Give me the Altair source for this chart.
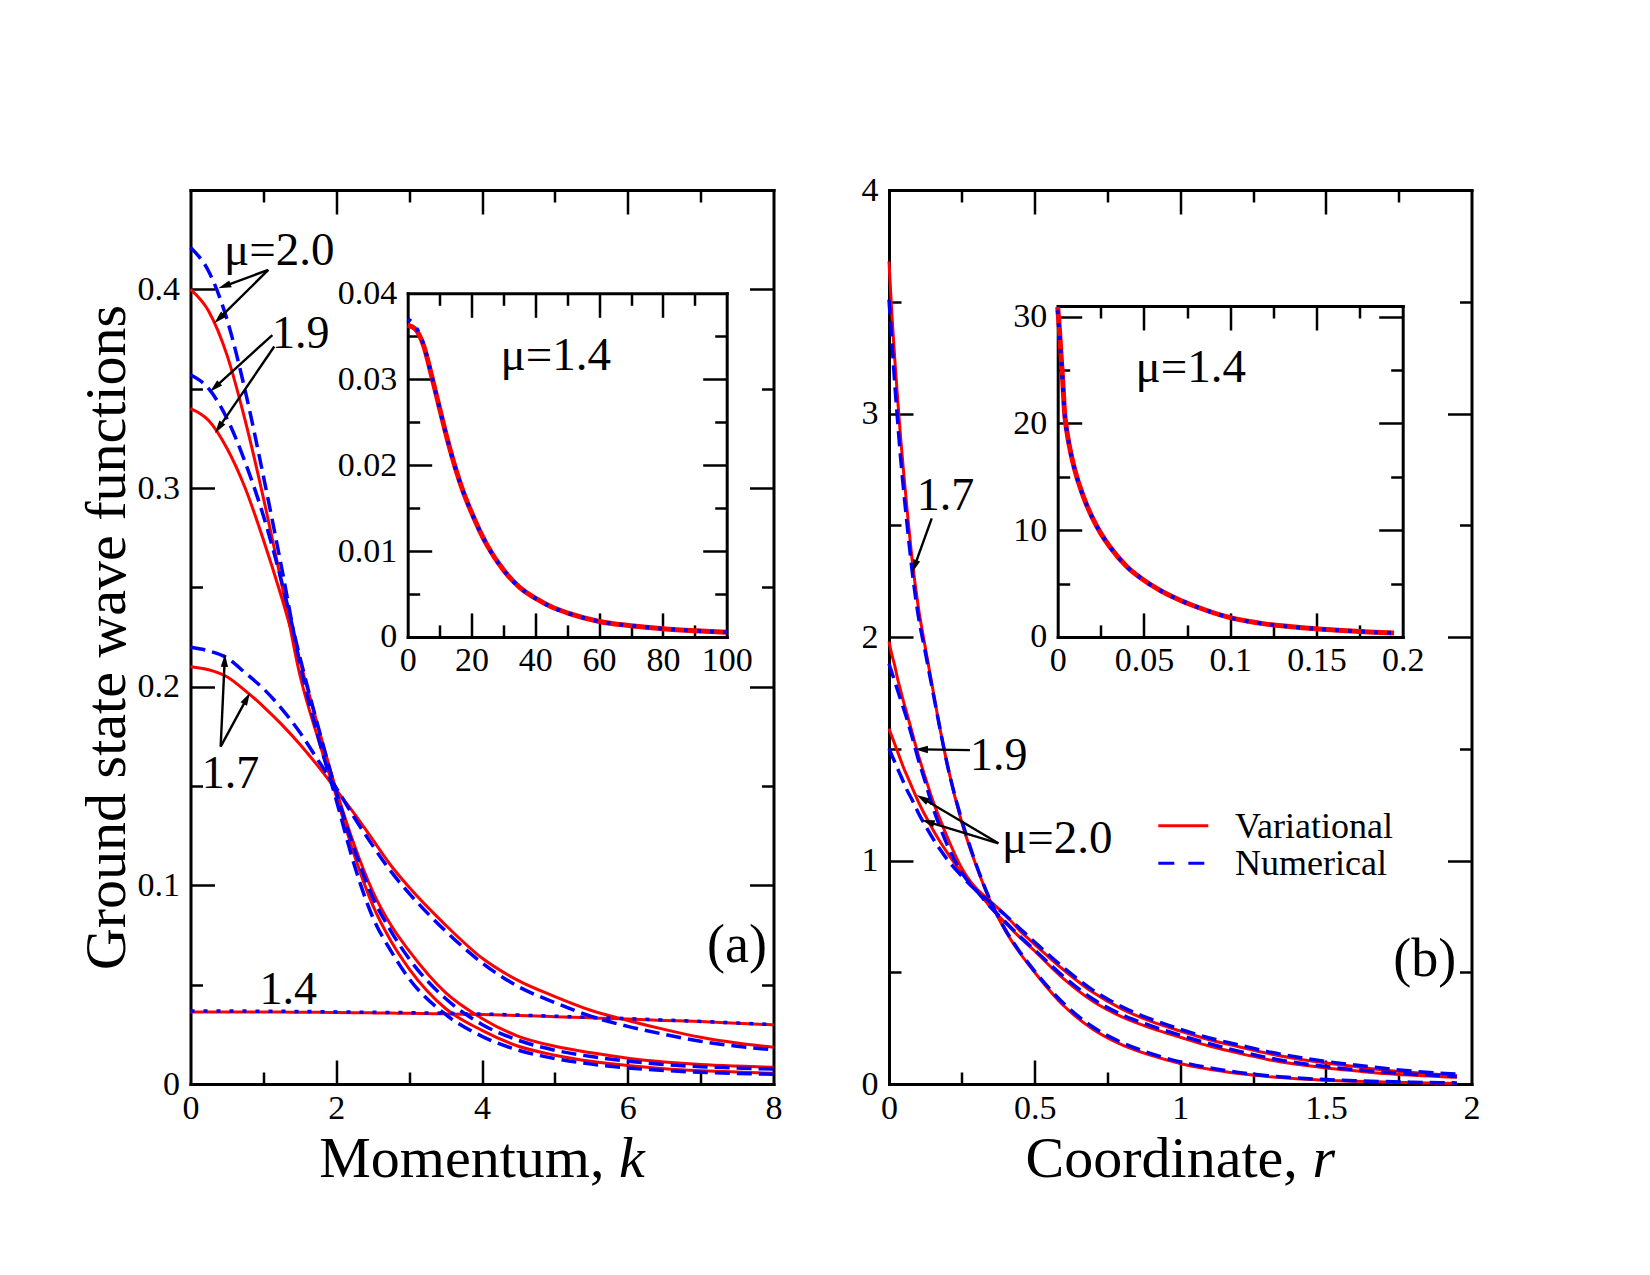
import math
import altair as alt
import pandas as pd

# ---------------- panel (a): momentum space ----------------
K_A = [0, 0.25, 0.5, 0.75, 1.0, 1.25, 1.5, 1.75, 2.0, 2.25, 2.5, 2.75, 3.0,
       3.5, 4.0, 4.5, 5.0, 5.5, 6.0, 6.5, 7.0, 7.5, 8.0]
VAR_A_20 = [0.400, 0.389, 0.367, 0.334, 0.295, 0.252, 0.206, 0.174, 0.145, 0.115, 0.090, 0.072, 0.058,
            0.038, 0.027, 0.019, 0.0145, 0.0114, 0.0093, 0.0077, 0.0067, 0.0060, 0.0054]
NUM_A_20 = [0.421, 0.409, 0.385, 0.349, 0.306, 0.260, 0.212, 0.175, 0.143, 0.110, 0.084, 0.067, 0.053,
            0.035, 0.024, 0.017, 0.0128, 0.0100, 0.0081, 0.0068, 0.0059, 0.0053, 0.0049]
VAR_A_19 = [0.340, 0.334, 0.320, 0.300, 0.274, 0.245, 0.213, 0.180, 0.148, 0.120, 0.097, 0.080, 0.067,
            0.046, 0.033, 0.024, 0.019, 0.0157, 0.0130, 0.0111, 0.0098, 0.0090, 0.0084]
NUM_A_19 = [0.357, 0.350, 0.335, 0.313, 0.286, 0.253, 0.215, 0.180, 0.147, 0.118, 0.094, 0.077, 0.063,
            0.043, 0.030, 0.022, 0.017, 0.0138, 0.0115, 0.0098, 0.0087, 0.0080, 0.0076]
VAR_A_17 = [0.210, 0.2085, 0.205, 0.198, 0.190, 0.181, 0.171, 0.160, 0.148, 0.136, 0.123, 0.110, 0.099,
            0.080, 0.0634, 0.052, 0.044, 0.037, 0.032, 0.0275, 0.0235, 0.0206, 0.0185]
NUM_A_17 = [0.2198, 0.218, 0.2145, 0.207, 0.199, 0.189, 0.177, 0.163, 0.149, 0.134, 0.120, 0.107, 0.096,
            0.077, 0.061, 0.049, 0.041, 0.034, 0.029, 0.025, 0.0215, 0.019, 0.0172]
VAR_A_14 = [0.0363, 0.0363, 0.0363, 0.0363, 0.0362, 0.0362, 0.0361, 0.0361, 0.0360, 0.0359, 0.0358, 0.0357, 0.0356,
            0.0353, 0.0350, 0.0345, 0.0339, 0.0333, 0.0327, 0.0320, 0.0314, 0.0306, 0.0298]
NUM_A_14 = [0.0368, 0.0368, 0.0367, 0.0367, 0.0366, 0.0366, 0.0365, 0.0364, 0.0363, 0.0362, 0.0361, 0.0360, 0.0359,
            0.0356, 0.0352, 0.0347, 0.0341, 0.0335, 0.0329, 0.0322, 0.0315, 0.0307, 0.0299]

# inset of (a): mu = 1.4 over a wide k range
K_IA = [0, 2.5, 5, 7.5, 10, 12.5, 15, 17.5, 20, 22.5, 25, 30, 35, 40, 45, 50, 60, 70, 80, 90, 100]
VAR_IA = [0.0363, 0.0358, 0.0339, 0.0304, 0.0266, 0.0229, 0.0196, 0.0168, 0.0145, 0.0124, 0.0106,
          0.0078, 0.0058, 0.0045, 0.0035, 0.0028, 0.0018, 0.0013, 0.00095, 0.00072, 0.00055]
NUM_IA = [0.0370, 0.0361, 0.0340, 0.0304, 0.0266, 0.0229, 0.0196, 0.0168, 0.0145, 0.0124, 0.0106,
          0.0078, 0.0058, 0.0045, 0.0035, 0.0028, 0.0018, 0.0013, 0.00095, 0.00072, 0.00055]

# ---------------- panel (b): coordinate space ----------------
R_B = [0, 0.01, 0.02, 0.03, 0.04, 0.05, 0.06, 0.08, 0.1, 0.125, 0.15, 0.175, 0.2, 0.25, 0.3, 0.35,
       0.4, 0.45, 0.5, 0.6, 0.7, 0.8, 0.9, 1.0, 1.1, 1.2, 1.3, 1.4, 1.5, 1.6, 1.7, 1.8, 1.95]
VAR_B_17 = [3.68, 3.44, 3.24, 3.06, 2.89, 2.74, 2.60, 2.34, 2.14, 1.95, 1.77, 1.59, 1.43, 1.17, 0.975, 0.81,
            0.685, 0.585, 0.50, 0.35, 0.245, 0.175, 0.128, 0.092, 0.066, 0.047, 0.033, 0.023, 0.017, 0.012, 0.009, 0.006, 0.003]
NUM_B_17 = [3.51, 3.32, 3.13, 2.96, 2.80, 2.66, 2.53, 2.29, 2.10, 1.93, 1.76, 1.59, 1.43, 1.18, 0.98, 0.815,
            0.69, 0.59, 0.505, 0.36, 0.255, 0.185, 0.136, 0.099, 0.072, 0.052, 0.037, 0.027, 0.020, 0.015, 0.011, 0.008, 0.005]
VAR_B_19 = [1.98, 1.92, 1.87, 1.81, 1.76, 1.71, 1.665, 1.57, 1.475, 1.37, 1.27, 1.185, 1.105, 0.965, 0.87, 0.79,
            0.72, 0.655, 0.595, 0.47, 0.37, 0.30, 0.25, 0.209, 0.17, 0.138, 0.11, 0.088, 0.072, 0.059, 0.047, 0.039, 0.030]
NUM_B_19 = [1.88, 1.84, 1.80, 1.76, 1.72, 1.68, 1.64, 1.55, 1.455, 1.35, 1.24, 1.15, 1.07, 0.945, 0.865, 0.79,
            0.725, 0.66, 0.60, 0.48, 0.38, 0.31, 0.26, 0.218, 0.18, 0.147, 0.118, 0.095, 0.078, 0.064, 0.053, 0.044, 0.034]
VAR_B_20 = [1.59, 1.555, 1.52, 1.485, 1.45, 1.415, 1.385, 1.325, 1.265, 1.20, 1.14, 1.085, 1.035, 0.945, 0.875, 0.815,
            0.755, 0.685, 0.625, 0.51, 0.41, 0.335, 0.28, 0.237, 0.198, 0.167, 0.137, 0.113, 0.094, 0.078, 0.063, 0.051, 0.037]
NUM_B_20 = [1.50, 1.47, 1.44, 1.41, 1.38, 1.35, 1.32, 1.27, 1.215, 1.155, 1.10, 1.05, 1.005, 0.93, 0.865, 0.81,
            0.755, 0.695, 0.635, 0.52, 0.42, 0.345, 0.29, 0.245, 0.206, 0.175, 0.145, 0.121, 0.101, 0.085, 0.070, 0.057, 0.044]

# inset of (b): mu = 1.4 at small r
R_IB = [0, 0.001, 0.002, 0.003, 0.004, 0.005, 0.0075, 0.01, 0.015, 0.02, 0.025, 0.03, 0.04, 0.05,
        0.06, 0.07, 0.08, 0.1, 0.12, 0.14, 0.16, 0.18, 0.195]
VAR_IB = [30.9, 28.8, 26.3, 23.7, 21.0, 19.6, 17.3, 15.6, 13.1, 11.2, 9.7, 8.5, 6.6, 5.3,
          4.3, 3.5, 2.85, 1.8, 1.22, 0.88, 0.65, 0.47, 0.37]
NUM_IB = [30.6, 28.6, 26.1, 23.6, 21.0, 19.6, 17.3, 15.6, 13.1, 11.2, 9.7, 8.5, 6.6, 5.3,
          4.3, 3.5, 2.85, 1.8, 1.22, 0.88, 0.65, 0.47, 0.37]

# ---------------- annotations (data coordinates of each panel) ----------------
TEXT_A = ["\u03bc=2.0", "1.9", "1.7", "1.4", "(a)", "Momentum,"]
TEXT_A_X = [0.46, 1.118, 0.154, 0.948, 7.088, 1.767]
TEXT_A_Y = [0.4123, 0.3704, 0.1489, 0.0403, 0.0614, -0.0470]
TEXT_A_FS = [47, 46, 46, 46, 54, 58]
ITAL_A = ["k"]; ITAL_A_X = [5.88]; ITAL_A_Y = [-0.0470]

TEXT_B = ["1.7", "1.9", "\u03bc=2.0", "(b)", "Coordinate,", "Variational", "Numerical"]
TEXT_B_X = [0.095, 0.278, 0.388, 1.731, 0.469, 1.188, 1.188]
TEXT_B_Y = [2.568, 1.405, 1.032, 0.483, -0.418, 1.099, 0.935]
TEXT_B_FS = [46, 46, 47, 54, 58, 36, 36]
ITAL_B = ["r"]; ITAL_B_X = [1.454]; ITAL_B_Y = [-0.418]

INSET_LABEL = "\u03bc=1.4"
INSET_A_POS = [29.1, 0.03107]
INSET_B_POS = [0.0451, 23.9]

# arrows: (x start, y start, x tip, y tip)
ARROWS_A = [(1.068, 0.4098, 0.381, 0.4005), (1.068, 0.4098, 0.327, 0.3829),
            (1.123, 0.3770, 0.268, 0.3485), (1.150, 0.3712, 0.336, 0.3276),
            (0.414, 0.1698, 0.473, 0.2165), (0.414, 0.1698, 0.816, 0.1970)]
ARROWS_B = [(0.1467, 2.531, 0.080, 2.289), (0.278, 1.494, 0.089, 1.4975),
            (0.3756, 1.077, 0.0952, 1.293), (0.3756, 1.077, 0.1124, 1.181)]

LEGEND = ["Variational", "Numerical"]
LEGEND_X = [0.9247, 1.0963]
LEGEND_Y = [1.1556, 0.9874]

# ---------------- layout ----------------
W, H = 1281, 894
FONT = "Liberation Serif"
RED, BLUE = "#ff0000", "#0000ff"
DASH = [15, 7]
DOT = [4, 9]
HEAD = "M0,0L0.28,1L-0.28,1Z"
LABEL_EXPR = "'' + datum.value"

PANELS = {
    "a": dict(xd=[0, 8], yd=[0, 0.45], xr=[0, 583], yr=[894, 0]),
    "b": dict(xd=[0, 2], yd=[0, 4], xr=[698.5, 1281], yr=[894, 0]),
    "ia": dict(xd=[0, 100], yd=[0, 0.04], xr=[217.2, 536.2], yr=[446.9, 103.3]),
    "ib": dict(xd=[0, 0.2], yd=[0, 31], xr=[867.2, 1212.2], yr=[446.9, 116.0]),
}
TICKS = {
    "a": dict(xl=[0, 2, 4, 6, 8], yl=[0, 0.1, 0.2, 0.3, 0.4],
              xt=[1, 2, 3, 4, 5, 6, 7], yt=[0.05, 0.1, 0.15, 0.2, 0.25, 0.3, 0.35, 0.4],
              xm="datum.value % 2 == 0", ym="abs(datum.value*10 - round(datum.value*10)) < 1e-6"),
    "b": dict(xl=[0, 0.5, 1, 1.5, 2], yl=[0, 1, 2, 3, 4],
              xt=[0.25, 0.5, 0.75, 1, 1.25, 1.5, 1.75], yt=[0.5, 1, 1.5, 2, 2.5, 3, 3.5],
              xm="abs(datum.value*2 - round(datum.value*2)) < 1e-6", ym="abs(datum.value - round(datum.value)) < 1e-6"),
    "ia": dict(xl=[0, 20, 40, 60, 80, 100], yl=[0, 0.01, 0.02, 0.03, 0.04],
               xt=[10, 20, 30, 40, 50, 60, 70, 80, 90], yt=[0.005, 0.01, 0.015, 0.02, 0.025, 0.03, 0.035],
               xm="datum.value % 20 == 0", ym="abs(datum.value*100 - round(datum.value*100)) < 1e-6"),
    "ib": dict(xl=[0, 0.05, 0.1, 0.15, 0.2], yl=[0, 10, 20, 30],
               xt=[0.025, 0.05, 0.075, 0.1, 0.125, 0.15, 0.175], yt=[5, 10, 15, 20, 25, 30],
               xm="abs(datum.value*20 - round(datum.value*20)) < 1e-6", ym="datum.value % 10 == 0"),
}


def sx(p):
    P = PANELS[p]
    return alt.Scale(domain=P["xd"], range=P["xr"], nice=False, zero=False)


def sy(p):
    P = PANELS[p]
    return alt.Scale(domain=P["yd"], range=P["yr"], nice=False, zero=False)


def label_x(p):
    P = PANELS[p]
    return alt.Axis(orient="bottom", offset=P["yr"][0] - H, values=TICKS[p]["xl"], labelExpr=LABEL_EXPR,
                    ticks=False, tickSize=0, domain=False, labelPadding=7, title=None)


def label_y(p, title=None):
    P = PANELS[p]
    return alt.Axis(orient="left", offset=-P["xr"][0], values=TICKS[p]["yl"], labelExpr=LABEL_EXPR,
                    ticks=False, tickSize=0, domain=False, labelPadding=11, title=title, titlePadding=1)


def tick_axis(orient, offset, values, test):
    return alt.Axis(orient=orient, offset=offset, values=values, labels=False, labelExpr="''",
                    labelFontSize=0, title=None,
                    ticks=True, tickColor="black", tickWidth=2.5,
                    tickSize={"condition": {"test": test, "value": 24}, "value": 12},
                    domain=True, domainColor="black", domainWidth=3, domainCap="square")


def ticks_bottom_left(p):
    P, T = PANELS[p], TICKS[p]
    return (tick_axis("top", -P["yr"][0], T["xt"], T["xm"]),
            tick_axis("right", P["xr"][0] - W, T["yt"], T["ym"]))


def ticks_top_right(p):
    P, T = PANELS[p], TICKS[p]
    return (tick_axis("bottom", P["yr"][1] - H, T["xt"], T["xm"]),
            tick_axis("left", -P["xr"][1], T["yt"], T["ym"]))


def long_frame(xs, series):
    rows = []
    for name, ys in series.items():
        for x, y in zip(xs, ys):
            rows.append({"x": x, "y": y, "s": name})
    return pd.DataFrame(rows)


def lines(p, df, color, width, dash=None, axes=(None, None)):
    mk = dict(color=color, strokeWidth=width, interpolate="monotone")
    if dash is not None:
        mk["strokeDash"] = dash
    return alt.Chart(df).mark_line(**mk).encode(
        x=alt.X("x:Q", scale=sx(p), axis=axes[0]),
        y=alt.Y("y:Q", scale=sy(p), axis=axes[1]),
        detail="s:N",
    )


def texts(p, labels, xs, ys, sizes, italic=False, axes=(None, None)):
    df = pd.DataFrame({"t": labels, "x": xs, "y": ys, "fs": sizes})
    mk = dict(font=FONT, align="left", baseline="alphabetic", color="black")
    if italic:
        mk["fontStyle"] = "italic"
    return alt.Chart(df).mark_text(**mk).encode(
        x=alt.X("x:Q", scale=sx(p), axis=axes[0]),
        y=alt.Y("y:Q", scale=sy(p), axis=axes[1]),
        text="t:N",
        size=alt.Size("fs:Q", scale=None, legend=None),
    )


def arrows(p, rows):
    P = PANELS[p]
    px = (P["xr"][1] - P["xr"][0]) / (P["xd"][1] - P["xd"][0])
    py = (P["yr"][0] - P["yr"][1]) / (P["yd"][1] - P["yd"][0])
    recs = []
    for x0, y0, x1, y1 in rows:
        dxp, dyp = (x1 - x0) * px, (y1 - y0) * py
        L = math.hypot(dxp, dyp)
        f = 8.0 / L
        recs.append({"x0": x0, "y0": y0, "x1": x1, "y1": y1,
                     "xs": x1 - (x1 - x0) * f, "ys": y1 - (y1 - y0) * f,
                     "ang": math.degrees(math.atan2(dxp, dyp)) % 360})
    df = pd.DataFrame(recs)
    shafts = alt.Chart(df).mark_rule(color="black", strokeWidth=2.4).encode(
        x=alt.X("x0:Q", scale=sx(p), axis=None), y=alt.Y("y0:Q", scale=sy(p), axis=None),
        x2="xs:Q", y2="ys:Q")
    heads = alt.Chart(df).mark_point(shape=HEAD, filled=True, color="black", size=676, opacity=1,
                                     strokeWidth=0).encode(
        x=alt.X("x1:Q", scale=sx(p), axis=None), y=alt.Y("y1:Q", scale=sy(p), axis=None),
        angle=alt.Angle("ang:Q", scale=None))
    return [shafts, heads]


layers = []
# ---- panel (a)
layers.append(lines("a", long_frame(K_A, {"v20": VAR_A_20, "v19": VAR_A_19, "v17": VAR_A_17, "v14": VAR_A_14}),
                    RED, 3, axes=(label_x("a"), label_y("a", "Ground state wave functions"))))
layers.append(lines("a", long_frame(K_A, {"n20": NUM_A_20, "n19": NUM_A_19, "n17": NUM_A_17}),
                    BLUE, 3.5, DASH, axes=ticks_bottom_left("a")))
layers.append(lines("a", long_frame(K_A, {"n14": NUM_A_14}), BLUE, 3.5, DOT, axes=ticks_top_right("a")))
layers += arrows("a", ARROWS_A)
layers.append(texts("a", TEXT_A, TEXT_A_X, TEXT_A_Y, TEXT_A_FS))
layers.append(texts("a", ITAL_A, ITAL_A_X, ITAL_A_Y, [58], italic=True))
# ---- inset (a)
layers.append(lines("ia", long_frame(K_IA, {"v": VAR_IA}), RED, 5, axes=(label_x("ia"), label_y("ia"))))
layers.append(lines("ia", long_frame(K_IA, {"n": NUM_IA}), BLUE, 4, DOT, axes=ticks_bottom_left("ia")))
layers.append(texts("ia", [INSET_LABEL], [INSET_A_POS[0]], [INSET_A_POS[1]], [47], axes=ticks_top_right("ia")))
# ---- panel (b)
layers.append(lines("b", long_frame(R_B, {"v20": VAR_B_20, "v19": VAR_B_19, "v17": VAR_B_17}),
                    RED, 3, axes=(label_x("b"), label_y("b"))))
layers.append(lines("b", long_frame(R_B, {"n20": NUM_B_20, "n19": NUM_B_19, "n17": NUM_B_17}),
                    BLUE, 3.5, DASH, axes=ticks_bottom_left("b")))
layers.append(texts("b", TEXT_B, TEXT_B_X, TEXT_B_Y, TEXT_B_FS, axes=ticks_top_right("b")))
layers.append(texts("b", ITAL_B, ITAL_B_X, ITAL_B_Y, [58], italic=True))
layers += arrows("b", ARROWS_B)
leg_df = pd.DataFrame({"m": LEGEND, "x0": [LEGEND_X[0]] * 2, "x1": [LEGEND_X[1]] * 2, "y": LEGEND_Y})
layers.append(alt.Chart(leg_df).mark_rule(strokeWidth=3).encode(
    x=alt.X("x0:Q", scale=sx("b"), axis=None), x2="x1:Q",
    y=alt.Y("y:Q", scale=sy("b"), axis=None),
    color=alt.Color("m:N", scale=alt.Scale(domain=LEGEND, range=[RED, BLUE]), legend=None),
    strokeDash=alt.StrokeDash("m:N", scale=alt.Scale(domain=LEGEND, range=[[1, 0], [16, 14]]), legend=None),
))
# ---- inset (b)
layers.append(lines("ib", long_frame(R_IB, {"v": VAR_IB}), RED, 5, axes=(label_x("ib"), label_y("ib"))))
layers.append(lines("ib", long_frame(R_IB, {"n": NUM_IB}), BLUE, 4, DOT, axes=ticks_bottom_left("ib")))
layers.append(texts("ib", [INSET_LABEL], [INSET_B_POS[0]], [INSET_B_POS[1]], [47], axes=ticks_top_right("ib")))

chart = alt.layer(*layers).resolve_scale(
    x="independent", y="independent", color="independent", strokeDash="independent",
    size="independent", angle="independent",
).resolve_axis(x="independent", y="independent").properties(
    width=W, height=H,
    autosize=alt.AutoSizeParams(type="none"),
    padding={"left": 190.5, "top": 190, "right": 178.5, "bottom": 191},
    background="white",
).configure_view(stroke="transparent").configure_axis(
    grid=False, labelFont=FONT, labelFontSize=34, labelColor="black",
    labelFlush=False, labelOverlap=False,
    titleFont=FONT, titleFontSize=58, titleFontWeight="normal", titleColor="black",
)

chart.save("out.html", embed_options={"renderer": "svg", "actions": False})
